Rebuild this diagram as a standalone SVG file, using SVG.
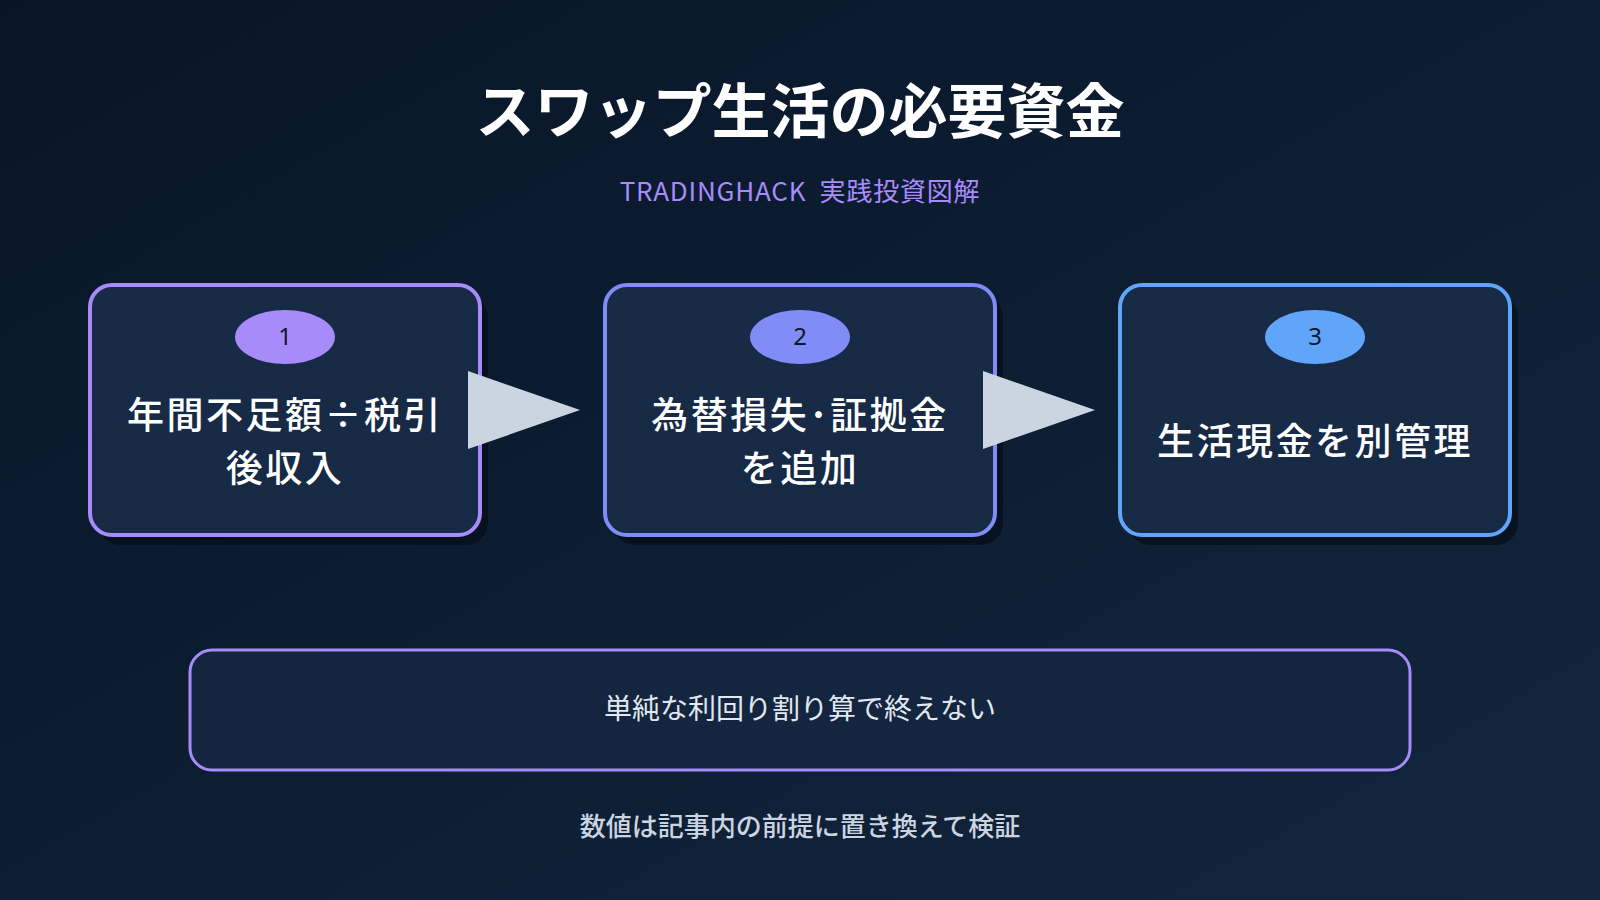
<svg xmlns="http://www.w3.org/2000/svg" width="1600" height="900" viewBox="0 0 1600 900">
  <defs>
    <linearGradient id="bg" x1="0" y1="0" x2="1" y2="1">
      <stop offset="0" stop-color="#081527"/>
      <stop offset="1" stop-color="#12263d"/>
    </linearGradient>
    <linearGradient id="boxfill" x1="0" y1="0" x2="1" y2="1">
      <stop offset="0" stop-color="#172a46"/>
      <stop offset="1" stop-color="#162a45"/>
    </linearGradient>
    <style>
      .jp { font-family: "Noto Sans CJK JP", "Noto Sans", sans-serif; }
      .title { font-size: 59px; font-weight: 600; fill: #ffffff; }
      .sub { font-size: 26px; fill: #a78bfa; letter-spacing: 0.8px; white-space: pre; }
      .box { fill: url(#boxfill); stroke-width: 4; }
      .shadow { fill: #050d1a; opacity: 0.75; }
      .btext { font-size: 37px; font-weight: 500; fill: #ffffff; letter-spacing: 2.5px; }
      .badge-t { font-size: 24px; fill: #0f172a; font-family: "Noto Sans", "Noto Sans CJK JP", sans-serif; }
      .arrow { fill: #cbd5e1; }
      .note { font-size: 28px; fill: #e2e8f0; }
      .foot { font-size: 26px; fill: #cbd5e1; font-weight: 500; }
    </style>
  </defs>

  <rect x="0" y="0" width="1600" height="900" fill="url(#bg)"/>

  <text class="jp title" x="800" y="133" text-anchor="middle">スワップ生活の必要資金</text>
  <text class="jp sub" x="800" y="201" text-anchor="middle" xml:space="preserve">TRADINGHACK  実践投資図解</text>

  <g id="node1">
    <rect class="shadow" x="98" y="295" width="390" height="250" rx="22"/>
    <rect class="box" x="90" y="285" width="390" height="250" rx="22" stroke="#a78bfa"/>
    <ellipse cx="285" cy="337" rx="50" ry="27" fill="#a78bfa"/>
    <text class="badge-t" x="285" y="345" text-anchor="middle">1</text>
    <text class="jp btext" x="285" y="429" text-anchor="middle">年間不足額÷税引</text>
    <text class="jp btext" x="285" y="482" text-anchor="middle">後収入</text>
  </g>

  <g id="node2">
    <rect class="shadow" x="613" y="295" width="390" height="250" rx="22"/>
    <rect class="box" x="605" y="285" width="390" height="250" rx="22" stroke="#818cf8"/>
    <ellipse cx="800" cy="337" rx="50" ry="27" fill="#818cf8"/>
    <text class="badge-t" x="800" y="345" text-anchor="middle">2</text>
    <text class="jp btext" x="800" y="429" text-anchor="middle">為替損失･証拠金</text>
    <text class="jp btext" x="800" y="482" text-anchor="middle">を追加</text>
  </g>

  <g id="node3">
    <rect class="shadow" x="1128" y="295" width="390" height="250" rx="22"/>
    <rect class="box" x="1120" y="285" width="390" height="250" rx="22" stroke="#60a5fa"/>
    <ellipse cx="1315" cy="337" rx="50" ry="27" fill="#60a5fa"/>
    <text class="badge-t" x="1315" y="345" text-anchor="middle">3</text>
    <text class="jp btext" x="1315" y="455" text-anchor="middle">生活現金を別管理</text>
  </g>

  <g id="connectors">
    <polygon class="arrow" points="468,371 580,410 468,449"/>
    <polygon class="arrow" points="983,371 1095,410 983,449"/>
  </g>

  <g id="note">
    <rect x="190" y="650" width="1220" height="120" rx="22" fill="#13253f" stroke="#a78bfa" stroke-width="3"/>
    <text class="jp note" x="800" y="719" text-anchor="middle">単純な利回り割り算で終えない</text>
  </g>

  <text class="jp foot" x="800" y="836" text-anchor="middle">数値は記事内の前提に置き換えて検証</text>
</svg>
